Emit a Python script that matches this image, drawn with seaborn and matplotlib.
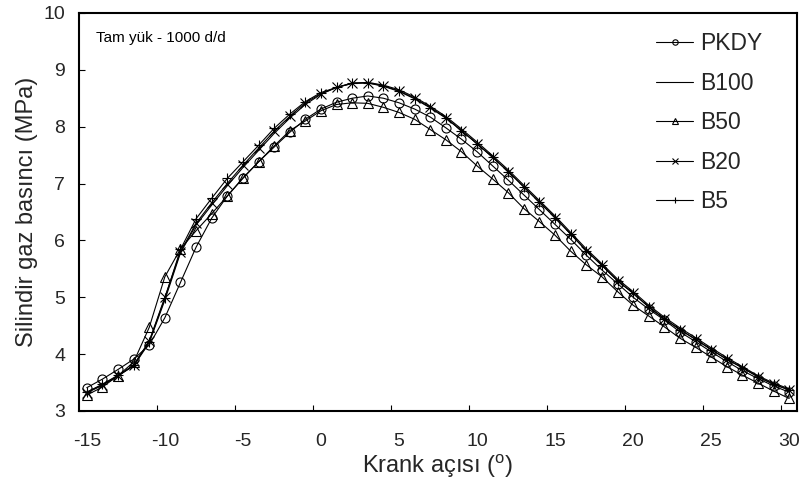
import numpy as np
import pandas as pd
import matplotlib
matplotlib.use("Agg")
import matplotlib.pyplot as plt
import seaborn as sns
from matplotlib.ticker import FixedLocator

crank = list(range(-15, 31))

pkdy = [3.41, 3.56, 3.73, 3.91, 4.16, 4.64, 5.26, 5.88, 6.39, 6.78,
        7.10, 7.38, 7.64, 7.90, 8.13, 8.31, 8.43, 8.50, 8.54, 8.50,
        8.42, 8.31, 8.17, 7.98, 7.78, 7.56, 7.31, 7.06, 6.80, 6.54,
        6.28, 6.02, 5.74, 5.48, 5.24, 5.00, 4.79, 4.60, 4.39, 4.22,
        4.04, 3.87, 3.71, 3.57, 3.44, 3.33]
b100 = [3.33, 3.46, 3.62, 3.79, 4.20, 4.95, 5.78, 6.27, 6.62, 6.96,
        7.28, 7.58, 7.88, 8.15, 8.39, 8.57, 8.69, 8.76, 8.78, 8.73,
        8.65, 8.52, 8.36, 8.18, 7.96, 7.73, 7.49, 7.24, 6.97, 6.70,
        6.43, 6.14, 5.85, 5.59, 5.32, 5.10, 4.86, 4.65, 4.46, 4.29,
        4.11, 3.94, 3.78, 3.62, 3.49, 3.39]
b50 = [3.28, 3.42, 3.62, 3.86, 4.47, 5.36, 5.85, 6.17, 6.47, 6.78,
       7.09, 7.38, 7.66, 7.93, 8.10, 8.28, 8.39, 8.42, 8.41, 8.34,
       8.25, 8.13, 7.95, 7.77, 7.56, 7.31, 7.08, 6.84, 6.56, 6.33,
       6.09, 5.81, 5.57, 5.36, 5.10, 4.86, 4.67, 4.48, 4.28, 4.12,
       3.95, 3.78, 3.63, 3.49, 3.35, 3.22]
b20 = [3.32, 3.45, 3.61, 3.81, 4.23, 5.00, 5.80, 6.30, 6.66, 7.00,
       7.32, 7.62, 7.92, 8.18, 8.42, 8.58, 8.69, 8.76, 8.77, 8.72,
       8.63, 8.50, 8.34, 8.16, 7.93, 7.70, 7.46, 7.21, 6.94, 6.67,
       6.40, 6.11, 5.82, 5.56, 5.29, 5.07, 4.83, 4.62, 4.43, 4.26,
       4.08, 3.91, 3.76, 3.60, 3.47, 3.37]
b5 = [3.33, 3.47, 3.63, 3.80, 4.22, 4.98, 5.84, 6.38, 6.74, 7.09,
      7.38, 7.67, 7.97, 8.22, 8.44, 8.60, 8.69, 8.77, 8.77, 8.71,
      8.62, 8.49, 8.33, 8.15, 7.93, 7.70, 7.46, 7.21, 6.94, 6.67,
      6.40, 6.11, 5.82, 5.56, 5.29, 5.07, 4.83, 4.62, 4.43, 4.26,
      4.08, 3.91, 3.76, 3.60, 3.47, 3.37]

series_names = ["PKDY", "B100", "B50", "B20", "B5"]
series_values = [pkdy, b100, b50, b20, b5]
series_markers = ["o", None, "^", "x", "+"]

x_tick_labels = [-15, -10, -5, 0, 5, 10, 15, 20, 25, 30]
y_ticks = [3, 4, 5, 6, 7, 8, 9, 10]

sns.set_theme(style="white")
plt.rcParams["font.family"] = ["Liberation Sans", "DejaVu Sans"]

fig = plt.figure(figsize=(8.02, 4.79), dpi=100)
ax = fig.add_axes([0.0985, 0.142, 0.8953, 0.831])

for name, vals, mk in zip(series_names, series_values, series_markers):
    df = pd.DataFrame({"x": crank, "y": vals})
    kw = dict(color="black", linewidth=0.8, label=name)
    if mk is not None:
        kw.update(marker=mk, markersize=6.5, markerfacecolor="none",
                  markeredgecolor="black", markeredgewidth=0.8)
    sns.lineplot(data=df, x="x", y="y", ax=ax, **kw)

ax.set_xlim(-15.5, 30.5)
ax.set_ylim(3, 10)

ax.xaxis.set_major_locator(FixedLocator(x_tick_labels))
ax.set_xticklabels([str(v) for v in x_tick_labels])
ax.xaxis.set_minor_locator(FixedLocator([v - 0.5 for v in x_tick_labels[1:]]))
ax.tick_params(axis="x", which="major", length=0, pad=16, labelsize=14)
ax.tick_params(axis="x", which="minor", direction="in", length=4, width=0.8,
               bottom=True, top=False, color="black")
ax.set_yticks(y_ticks)
ax.set_yticklabels([str(v) for v in y_ticks])
ax.tick_params(axis="y", which="major", direction="in", length=4, width=0.8,
               left=True, right=False, pad=10, labelsize=14, color="black")

for s in ax.spines.values():
    s.set_visible(True)
    s.set_color("black")
    s.set_linewidth(1.5)

ax.set_xlabel("Krank açısı ($\\mathregular{^o}$)", fontsize=17, labelpad=2)
ax.set_ylabel("Silindir gaz basıncı (MPa)", fontsize=17, labelpad=4)

ax.text(0.023, 0.937, "Tam yük - 1000 d/d", transform=ax.transAxes,
        fontsize=11, ha="left", va="center", color="black")

leg = ax.legend(loc="upper right", bbox_to_anchor=(0.964, 0.975), frameon=False,
                fontsize=16.5, handlelength=1.6, handletextpad=0.3,
                labelspacing=0.72, markerscale=0.6, borderaxespad=0)

fig.savefig("out.png", dpi=100, facecolor="white")
